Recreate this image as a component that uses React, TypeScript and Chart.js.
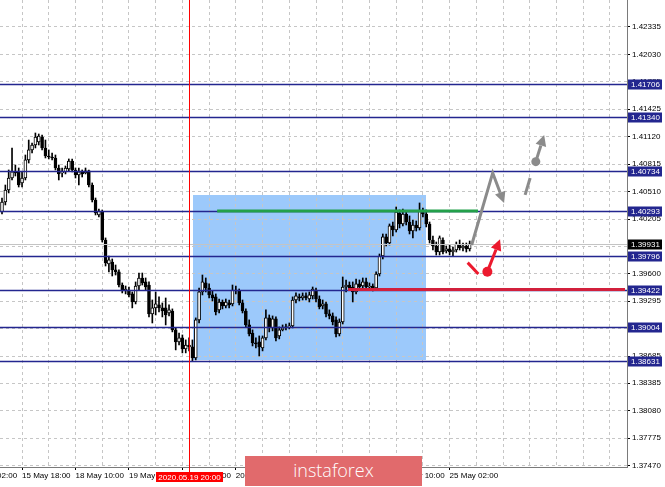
import React, { useEffect, useRef } from 'react';
import { Chart, registerables } from 'chart.js';

Chart.register(...registerables);

// ---------- data (H1 candles, GBPUSD-like) ----------
const OPEN = [
  1.40283, 1.40394, 1.40527, 1.40660, 1.40727, 1.40727, 1.40605, 1.40660, 1.40860, 1.40971,
  1.41026, 1.41059, 1.41115, 1.40993, 1.40904, 1.40893, 1.40882, 1.40771, 1.40716, 1.40727,
  1.40760, 1.40848, 1.40749, 1.40693, 1.40727, 1.40716, 1.40738, 1.40582, 1.40416, 1.40250,
  1.40283, 1.39972, 1.39706, 1.39728, 1.39640, 1.39618, 1.39473, 1.39407, 1.39418, 1.39374,
  1.39285, 1.39462, 1.39551, 1.39507, 1.39473, 1.39152, 1.39219, 1.39252, 1.39219, 1.39219,
  1.39163, 1.39185, 1.38975, 1.38842, 1.38886, 1.38764, 1.38808, 1.38786, 1.38664, 1.39086,
  1.39396, 1.39496, 1.39440, 1.39363, 1.39341, 1.39197, 1.39285, 1.39241, 1.39274, 1.39263,
  1.39418, 1.39407, 1.39274, 1.39185, 1.39030, 1.38941, 1.38831, 1.38842, 1.38775, 1.38886,
  1.39108, 1.38997, 1.39097, 1.38908, 1.38975, 1.38997, 1.39008, 1.39019, 1.39307, 1.39341,
  1.39329, 1.39352, 1.39318, 1.39352, 1.39418, 1.39318, 1.39241, 1.39263, 1.39152, 1.39130,
  1.39086, 1.38930, 1.39063, 1.39451, 1.39473, 1.39451, 1.39396, 1.39485, 1.39462, 1.39507,
  1.39451, 1.39462, 1.39440, 1.39595, 1.39795, 1.40006, 1.39939, 1.40128, 1.40083, 1.40272,
  1.40150, 1.40261, 1.40172, 1.40072, 1.40139, 1.40106, 1.40294, 1.40261, 1.40150, 1.39972,
  1.39906, 1.39839, 1.39972, 1.39850, 1.39873, 1.39839, 1.39861, 1.39928, 1.39884, 1.39906,
  1.39873,
];
const HIGH = [
  1.40438, 1.40582, 1.40749, 1.40993, 1.40804, 1.40771, 1.40727, 1.40915, 1.41081, 1.41048,
  1.41159, 1.41148, 1.41137, 1.41081, 1.40971, 1.40937, 1.40915, 1.40804, 1.40771, 1.40793,
  1.40871, 1.40871, 1.40771, 1.40771, 1.40749, 1.40771, 1.40749, 1.40605, 1.40438, 1.40316,
  1.40305, 1.39995, 1.39795, 1.39762, 1.39695, 1.39640, 1.39496, 1.39462, 1.39451, 1.39396,
  1.39507, 1.39606, 1.39606, 1.39551, 1.39507, 1.39307, 1.39396, 1.39341, 1.39274, 1.39329,
  1.39252, 1.39208, 1.38997, 1.38941, 1.38919, 1.38864, 1.38886, 1.38864, 1.39108, 1.39440,
  1.39584, 1.39551, 1.39485, 1.39407, 1.39374, 1.39318, 1.39307, 1.39318, 1.39307, 1.39473,
  1.39462, 1.39429, 1.39307, 1.39208, 1.39086, 1.38975, 1.38886, 1.38908, 1.38908, 1.39197,
  1.39141, 1.39130, 1.39119, 1.39008, 1.39030, 1.39041, 1.39052, 1.39341, 1.39385, 1.39374,
  1.39385, 1.39385, 1.39396, 1.39451, 1.39440, 1.39352, 1.39307, 1.39285, 1.39197, 1.39163,
  1.39119, 1.39097, 1.39562, 1.39529, 1.39507, 1.39507, 1.39540, 1.39529, 1.39551, 1.39551,
  1.39496, 1.39485, 1.39618, 1.39817, 1.40039, 1.40039, 1.40150, 1.40172, 1.40338, 1.40305,
  1.40316, 1.40294, 1.40239, 1.40194, 1.40183, 1.40383, 1.40327, 1.40305, 1.40172, 1.40017,
  1.39950, 1.40017, 1.39995, 1.39906, 1.39917, 1.39895, 1.39950, 1.39972, 1.39939, 1.39939,
  1.39961,
];
const LOW = [
  1.40261, 1.40361, 1.40494, 1.40638, 1.40682, 1.40560, 1.40560, 1.40638, 1.40826, 1.40937,
  1.40993, 1.41026, 1.40971, 1.40882, 1.40871, 1.40860, 1.40749, 1.40638, 1.40671, 1.40705,
  1.40738, 1.40727, 1.40660, 1.40582, 1.40671, 1.40705, 1.40560, 1.40394, 1.40250, 1.40227,
  1.39950, 1.39684, 1.39618, 1.39573, 1.39584, 1.39451, 1.39385, 1.39374, 1.39341, 1.39219,
  1.39263, 1.39418, 1.39473, 1.39418, 1.39119, 1.39052, 1.39141, 1.39174, 1.39119, 1.39030,
  1.39130, 1.38953, 1.38753, 1.38808, 1.38720, 1.38720, 1.38742, 1.38631, 1.38642, 1.39052,
  1.39363, 1.39396, 1.39329, 1.39296, 1.39141, 1.39163, 1.39208, 1.39219, 1.39219, 1.39241,
  1.39374, 1.39252, 1.39163, 1.39008, 1.38908, 1.38797, 1.38775, 1.38686, 1.38742, 1.38864,
  1.38953, 1.38964, 1.38853, 1.38875, 1.38964, 1.38975, 1.38986, 1.38997, 1.39274, 1.39296,
  1.39307, 1.39307, 1.39285, 1.39318, 1.39285, 1.39208, 1.39208, 1.39119, 1.39097, 1.39030,
  1.38897, 1.38908, 1.39041, 1.39396, 1.39418, 1.39285, 1.39374, 1.39418, 1.39440, 1.39429,
  1.39418, 1.39407, 1.39418, 1.39573, 1.39762, 1.39906, 1.39917, 1.40017, 1.40061, 1.40106,
  1.40128, 1.40139, 1.40039, 1.39995, 1.40072, 1.40083, 1.40227, 1.40117, 1.39939, 1.39861,
  1.39806, 1.39806, 1.39817, 1.39828, 1.39806, 1.39795, 1.39839, 1.39861, 1.39850, 1.39839,
  1.39850,
];
const CLOSE = [
  1.40394, 1.40527, 1.40660, 1.40727, 1.40716, 1.40582, 1.40660, 1.40860, 1.40971, 1.41026,
  1.41115, 1.41126, 1.40993, 1.40904, 1.40893, 1.40882, 1.40771, 1.40705, 1.40727, 1.40771,
  1.40848, 1.40749, 1.40693, 1.40727, 1.40705, 1.40738, 1.40582, 1.40416, 1.40272, 1.40294,
  1.39972, 1.39717, 1.39751, 1.39640, 1.39618, 1.39473, 1.39407, 1.39429, 1.39363, 1.39285,
  1.39462, 1.39551, 1.39496, 1.39451, 1.39152, 1.39219, 1.39263, 1.39219, 1.39185, 1.39141,
  1.39197, 1.38975, 1.38842, 1.38886, 1.38764, 1.38808, 1.38786, 1.38664, 1.39086, 1.39396,
  1.39507, 1.39440, 1.39363, 1.39329, 1.39174, 1.39285, 1.39241, 1.39285, 1.39252, 1.39418,
  1.39407, 1.39274, 1.39185, 1.39030, 1.38930, 1.38831, 1.38820, 1.38786, 1.38886, 1.39108,
  1.38997, 1.39097, 1.38886, 1.38975, 1.38997, 1.39008, 1.39019, 1.39307, 1.39352, 1.39329,
  1.39352, 1.39329, 1.39363, 1.39429, 1.39318, 1.39230, 1.39263, 1.39152, 1.39130, 1.39063,
  1.38930, 1.39063, 1.39451, 1.39473, 1.39440, 1.39396, 1.39485, 1.39451, 1.39507, 1.39451,
  1.39462, 1.39440, 1.39595, 1.39795, 1.40006, 1.39939, 1.40128, 1.40083, 1.40283, 1.40150,
  1.40261, 1.40172, 1.40072, 1.40139, 1.40106, 1.40294, 1.40261, 1.40150, 1.39972, 1.39906,
  1.39839, 1.39995, 1.39839, 1.39873, 1.39839, 1.39861, 1.39928, 1.39884, 1.39906, 1.39873,
  1.39931,
];

// price axis ticks (as printed by the terminal)
const Y_TICKS = [
  1.42335, 1.42030, 1.41725, 1.41425, 1.41120, 1.40815, 1.40510, 1.40205, 1.39900,
  1.39600, 1.39295, 1.38990, 1.38685, 1.38385, 1.38080, 1.37775, 1.37470,
];
// horizontal support / resistance levels
const LEVELS = [1.41706, 1.41340, 1.40734, 1.40293, 1.39796, 1.39422, 1.39004, 1.38631];
const CURRENT_PRICE = 1.39931;

// time axis: bar index of labelled ticks and their labels
const X_LABEL_INDEX = [-10, 6, 22, 38, 54, 70, 86, 102, 118, 134];
const X_LABELS = [
  '15 May 02:00', '15 May 18:00', '18 May 10:00', '19 May 02:00', '19 May 18:00',
  '20 May 10:00', '21 May 02:00', '21 May 18:00', '22 May 10:00', '25 May 02:00',
];
const X_GRID_START = -10;
const X_GRID_STEP = 8;
const X_GRID_END = 182;

// marked bar (vertical line) and its date tag
const MARK_INDEX = 56;
const MARK_LABEL = '2020.05.19 20:00';

// zone rectangle: [fromIndex, toIndex], [topPrice, bottomPrice]
const ZONE_X = [57.2, 126.9];
const ZONE_Y = [1.40472, 1.38642];
// green resistance segment and red support segment
const GREEN_SEG = { from: 64.4, to: 142.5, price: 1.40293 };
const RED_SEG = { from: 103.6, to: 186.5, price: 1.39422 };

// forecast arrows [barIndex, price]
const GRAY_PATH = [[140.6, 1.39917], [146.9, 1.40716], [150.3, 1.40383]];
const GRAY_DASH = [[156.6, 1.40472], [158.1, 1.40660]];
const GRAY_DOT_ARROW = [[159.8, 1.40841], [162.3, 1.41137]];
const RED_DASH = [[139.4, 1.39721], [142.6, 1.39595]];
const RED_DOT_ARROW = [[145.3, 1.39621], [149.1, 1.39980]];

const X_MIN = -0.6;
const X_MAX = 187.1;
const Y_MIN = 1.374545;
const Y_MAX = 1.42634;

const FONT = 'Liberation Sans, Arial, sans-serif';
const NAVY = '#23268f';
const GRAY_ARROW = '#8b8b8b';
const RED_ARROW = '#ec1a2e';

function drawArrow(ctx: CanvasRenderingContext2D, pts: number[][], color: string, head: boolean) {
  ctx.save();
  ctx.strokeStyle = color;
  ctx.fillStyle = color;
  ctx.lineWidth = 3;
  ctx.lineJoin = 'miter';
  const n = pts.length;
  const [ex, ey] = pts[n - 1];
  const [px, py] = pts[n - 2];
  const ang = Math.atan2(ey - py, ex - px);
  const hl = head ? 11 : 0;
  const hw = 5.5;
  const bx = ex - Math.cos(ang) * hl;
  const by = ey - Math.sin(ang) * hl;
  ctx.beginPath();
  ctx.moveTo(pts[0][0], pts[0][1]);
  for (let i = 1; i < n - 1; i++) ctx.lineTo(pts[i][0], pts[i][1]);
  ctx.lineTo(bx, by);
  ctx.stroke();
  if (head) {
    const nx = -Math.sin(ang);
    const ny = Math.cos(ang);
    ctx.beginPath();
    ctx.moveTo(ex, ey);
    ctx.lineTo(bx + nx * hw, by + ny * hw);
    ctx.lineTo(bx - nx * hw, by - ny * hw);
    ctx.closePath();
    ctx.fill();
  }
  ctx.restore();
}

const overlayPlugin = {
  id: 'mtOverlay',
  beforeDraw(chart: any) {
    const { ctx, scales } = chart;
    const x = scales.x;
    const y = scales.y;
    ctx.save();
    ctx.fillStyle = '#9cc9fb';
    const x0 = x.getPixelForValue(ZONE_X[0]);
    const x1 = x.getPixelForValue(ZONE_X[1]);
    const y0 = y.getPixelForValue(ZONE_Y[0]);
    const y1 = y.getPixelForValue(ZONE_Y[1]);
    ctx.fillRect(Math.round(x0), Math.round(y0), Math.round(x1 - x0), Math.round(y1 - y0));
    ctx.restore();
  },
  afterDatasetsDraw(chart: any) {
    const { ctx, scales, chartArea } = chart;
    const x = scales.x;
    const y = scales.y;
    const P = (p: number[]) => [x.getPixelForValue(p[0]), y.getPixelForValue(p[1])];
    ctx.save();
    // current price line
    ctx.strokeStyle = '#c4c4c4';
    ctx.lineWidth = 1;
    let py = Math.round(y.getPixelForValue(CURRENT_PRICE)) + 0.5;
    ctx.beginPath();
    ctx.moveTo(chartArea.left, py);
    ctx.lineTo(chartArea.right, py);
    ctx.stroke();
    // levels
    ctx.strokeStyle = NAVY;
    ctx.lineWidth = 1.3;
    LEVELS.forEach((v) => {
      const yy = Math.round(y.getPixelForValue(v)) + 0.5;
      ctx.beginPath();
      ctx.moveTo(chartArea.left, yy);
      ctx.lineTo(chartArea.right, yy);
      ctx.stroke();
    });
    // green segment
    ctx.strokeStyle = '#23a04a';
    ctx.lineWidth = 3;
    py = y.getPixelForValue(GREEN_SEG.price);
    ctx.beginPath();
    ctx.moveTo(x.getPixelForValue(GREEN_SEG.from), py);
    ctx.lineTo(x.getPixelForValue(GREEN_SEG.to), py);
    ctx.stroke();
    // red segment
    ctx.strokeStyle = '#d2203c';
    py = y.getPixelForValue(RED_SEG.price);
    ctx.beginPath();
    ctx.moveTo(x.getPixelForValue(RED_SEG.from), py);
    ctx.lineTo(x.getPixelForValue(RED_SEG.to), py);
    ctx.stroke();
    ctx.restore();

    // forecast arrows
    drawArrow(ctx, GRAY_PATH.map(P), GRAY_ARROW, true);
    drawArrow(ctx, GRAY_DASH.map(P), GRAY_ARROW, false);
    drawArrow(ctx, GRAY_DOT_ARROW.map(P), GRAY_ARROW, true);
    drawArrow(ctx, RED_DASH.map(P), RED_ARROW, false);
    drawArrow(ctx, RED_DOT_ARROW.map(P), RED_ARROW, true);
    ctx.save();
    const g = P(GRAY_DOT_ARROW[0]);
    ctx.fillStyle = GRAY_ARROW;
    ctx.beginPath();
    ctx.arc(g[0], g[1], 4.5, 0, Math.PI * 2);
    ctx.fill();
    const r = P(RED_DOT_ARROW[0]);
    ctx.fillStyle = RED_ARROW;
    ctx.beginPath();
    ctx.arc(r[0], r[1], 5, 0, Math.PI * 2);
    ctx.fill();
    ctx.restore();
  },
  afterDraw(chart: any) {
    const { ctx, scales, chartArea } = chart;
    const x = scales.x;
    const y = scales.y;
    ctx.save();
    // vertical marker line
    const mx = Math.round(x.getPixelForValue(MARK_INDEX)) + 0.5;
    ctx.strokeStyle = '#ff0000';
    ctx.lineWidth = 1;
    ctx.beginPath();
    ctx.moveTo(mx, 0);
    ctx.lineTo(mx, chartArea.bottom + 5);
    ctx.stroke();
    // date tag
    ctx.font = `8px ${FONT}`;
    ctx.textBaseline = 'middle';
    ctx.textAlign = 'center';
    ctx.fillStyle = '#ff0000';
    ctx.fillRect(mx - 33.5, chartArea.bottom + 5, 67, 10);
    ctx.fillStyle = '#ffffff';
    ctx.fillText(MARK_LABEL, mx, chartArea.bottom + 10.5);
    // price tags on the axis
    ctx.textAlign = 'left';
    const tag = (v: number, bg: string) => {
      const yy = Math.round(y.getPixelForValue(v));
      ctx.fillStyle = bg;
      ctx.fillRect(chartArea.right + 1, yy - 4.5, 34, 10);
      ctx.fillStyle = '#ffffff';
      ctx.fillText(v.toFixed(5), chartArea.right + 4, yy + 0.5);
    };
    LEVELS.forEach((v) => tag(v, NAVY));
    tag(CURRENT_PRICE, '#000000');
    ctx.restore();
  },
};

export default function App() {
  const ref = useRef<HTMLCanvasElement | null>(null);

  useEffect(() => {
    if (!ref.current) return;
    const wickData = HIGH.map((h, i) => ({ x: i, y: [LOW[i], h] }));
    const bodyData = OPEN.map((o, i) => ({ x: i, y: [o, CLOSE[i]] }));
    const bodyColors = OPEN.map((o, i) => (CLOSE[i] >= o ? '#ffffff' : '#000000'));
    const xGrid: number[] = [];
    for (let v = X_GRID_START; v <= X_GRID_END; v += X_GRID_STEP) xGrid.push(v);

    const chart = new Chart(ref.current, {
      type: 'bar',
      data: {
        datasets: [
          {
            label: 'wick',
            data: wickData as any,
            backgroundColor: '#000000',
            borderWidth: 0,
            grouped: false,
            maxBarThickness: 1,
            barPercentage: 1,
            categoryPercentage: 1,
            order: 2,
          } as any,
          {
            label: 'body',
            data: bodyData as any,
            backgroundColor: bodyColors,
            borderColor: '#000000',
            borderWidth: 1,
            borderSkipped: false,
            grouped: false,
            maxBarThickness: 3,
            barPercentage: 1,
            categoryPercentage: 1,
            minBarLength: 1,
            order: 1,
          } as any,
        ],
      },
      options: {
        animation: false,
        responsive: false,
        devicePixelRatio: 1,
        events: [],
        layout: { padding: 0 },
        plugins: { legend: { display: false }, tooltip: { enabled: false } },
        scales: {
          x: {
            type: 'linear',
            min: X_MIN,
            max: X_MAX,
            offset: false,
            afterBuildTicks: (s: any) => {
              s.ticks = xGrid.map((v) => ({ value: v }));
            },
            afterFit: (s: any) => {
              s.height = 20;
              s.paddingLeft = 0;
              s.paddingRight = 0;
            },
            grid: {
              offset: false,
              color: '#c6c6c6',
              lineWidth: 1,
              tickLength: 3,
              tickColor: (c: any) =>
                c.tick && X_LABEL_INDEX.includes(c.tick.value) ? '#000000' : 'rgba(0,0,0,0)',
            },
            border: { display: true, color: '#7a7a7a', width: 1, dash: [3, 3] },
            ticks: {
              autoSkip: false,
              maxRotation: 0,
              minRotation: 0,
              align: 'start',
              padding: 1,
              color: '#000000',
              font: { family: FONT, size: 8 },
              callback: (v: any) => {
                const k = X_LABEL_INDEX.indexOf(Number(v));
                return k >= 0 ? X_LABELS[k] : '';
              },
            },
          } as any,
          y: {
            type: 'linear',
            position: 'right',
            min: Y_MIN,
            max: Y_MAX,
            beginAtZero: false,
            afterBuildTicks: (s: any) => {
              s.ticks = Y_TICKS.map((v) => ({ value: v }));
            },
            afterFit: (s: any) => {
              s.width = 38;
              s.paddingTop = 0;
              s.paddingBottom = 0;
            },
            grid: {
              color: '#c6c6c6',
              lineWidth: 1,
              tickLength: 3,
              tickColor: '#000000',
            },
            border: { display: true, color: '#7a7a7a', width: 1, dash: [3, 3] },
            ticks: {
              autoSkip: false,
              padding: 2,
              color: '#000000',
              font: { family: FONT, size: 8 },
              callback: (v: any) => Number(v).toFixed(5),
            },
          } as any,
        },
      },
      plugins: [overlayPlugin],
    });
    return () => chart.destroy();
  }, []);

  return (
    <div style={{ position: 'relative', width: 665, height: 487, background: '#ffffff', overflow: 'hidden' }}>
      <style>{'body{margin:0;}'}</style>
      <canvas ref={ref} width={665} height={487} style={{ display: 'block' }} />
      <div
        style={{
          position: 'absolute',
          left: 245,
          top: 456,
          width: 177,
          height: 30,
          background: '#e16a6c',
          color: '#ffffff',
          fontFamily: '"Open Sans", "DejaVu Sans", sans-serif',
          fontWeight: 300,
          fontSize: 18,
          lineHeight: '29px',
          textAlign: 'center',
          letterSpacing: 0,
        }}
      >
        instaforex
      </div>
    </div>
  );
}
